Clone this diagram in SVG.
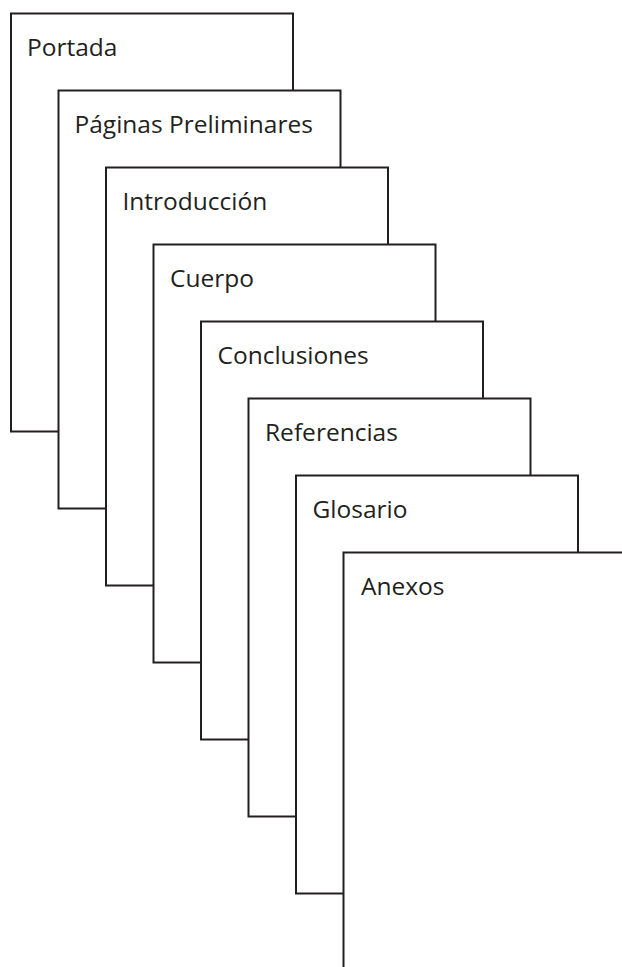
<svg xmlns="http://www.w3.org/2000/svg" width="622" height="967" viewBox="0 0 622 967">
<style>
.pg{fill:#fff;stroke:#231f20;stroke-width:2}
.t{font-family:"Open Sans","Noto Sans",sans-serif;font-size:24.5px;fill:#231f20}
</style>
<rect width="622" height="967" fill="#fff"/>
<g id="portada"><rect class="pg" x="11" y="13.5" width="282" height="418"/><text class="t" x="27" y="56">Portada</text></g>
<g id="preliminares"><rect class="pg" x="58.5" y="90.5" width="282" height="418"/><text class="t" x="74.5" y="133">Páginas Preliminares</text></g>
<g id="introduccion"><rect class="pg" x="106" y="167.5" width="282" height="418"/><text class="t" x="122.5" y="210">Introducción</text></g>
<g id="cuerpo"><rect class="pg" x="153.5" y="244.5" width="282" height="418"/><text class="t" x="170" y="287">Cuerpo</text></g>
<g id="conclusiones"><rect class="pg" x="201" y="321.5" width="282" height="418"/><text class="t" x="217.5" y="364">Conclusiones</text></g>
<g id="referencias"><rect class="pg" x="248.5" y="398.5" width="282" height="418"/><text class="t" x="265" y="441">Referencias</text></g>
<g id="glosario"><rect class="pg" x="296" y="475.5" width="282" height="418"/><text class="t" x="312.5" y="518">Glosario</text></g>
<g id="anexos"><rect class="pg" x="343.5" y="552.5" width="282" height="418"/><text class="t" x="361" y="595">Anexos</text></g>
<g id="connectors"/>
</svg>
